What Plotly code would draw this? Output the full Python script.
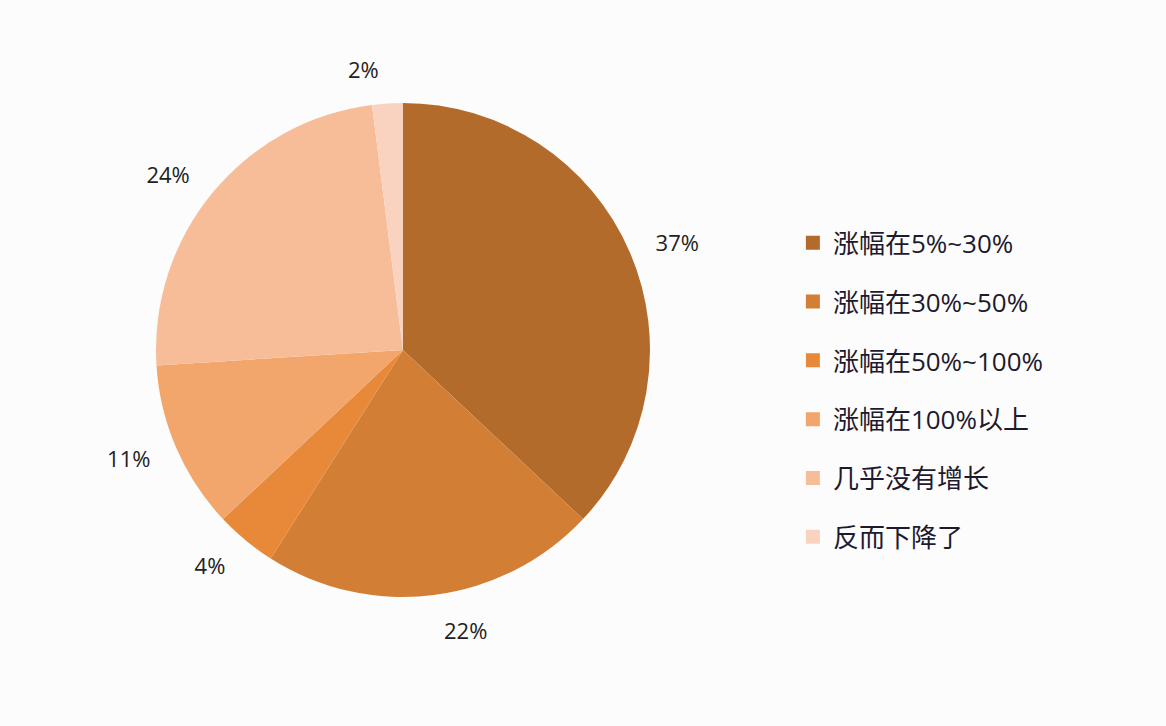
import plotly.graph_objects as go

# ===== data =====
names = ['涨幅在5%~30%', '涨幅在30%~50%', '涨幅在50%~100%', '涨幅在100%以上', '几乎没有增长', '反而下降了']
shares = [37, 22, 4, 11, 24, 2]
colors = ['#B36B2C', '#D27F35', '#E8893A', '#F2A66C', '#F7BD99', '#FAD3C0']

FONT = 'Open Sans, Noto Sans CJK SC, sans-serif'
W, H = 1166, 726
cx, cy, r = 403, 350, 247   # pie centre / radius in px
r_lab = 267                 # radius of the invisible pie that carries the outside labels


def dom(radius):
    return dict(x=[(cx - radius) / W, (cx + radius) / W],
                y=[(H - cy - radius) / H, (H - cy + radius) / H])


fig = go.Figure()

# transparent, slightly larger copy only for the percentage labels
fig.add_trace(go.Pie(
    labels=names, values=shares,
    sort=False, direction='clockwise', rotation=0,
    marker=dict(colors=['rgba(0,0,0,0)'] * len(names), line=dict(width=0)),
    texttemplate='%{value}%', textposition='outside',
    textfont=dict(size=22, color='#222222', family=FONT),
    domain=dom(r_lab), showlegend=False, hoverinfo='skip',
))

fig.add_trace(go.Pie(
    labels=names, values=shares,
    sort=False, direction='clockwise', rotation=0,
    marker=dict(colors=colors, line=dict(width=0)),
    textinfo='none',
    domain=dom(r), showlegend=False, hoverinfo='label+percent',
))

# legend built from one dummy square marker per category (gives per-entry spacing)
for name, c in zip(names, colors):
    fig.add_trace(go.Scatter(
        x=[None], y=[None], mode='markers', name=name,
        marker=dict(symbol='square', size=14, color=c),
        legendgroup=name, showlegend=True,
    ))

fig.update_layout(
    width=W, height=H,
    margin=dict(l=0, r=0, t=0, b=0),
    paper_bgcolor='#FCFCFD', plot_bgcolor='#FCFCFD',
    xaxis=dict(visible=False), yaxis=dict(visible=False),
    legend=dict(
        x=0.680, y=0.463, xanchor='left', yanchor='middle',
        font=dict(size=26, color='#1E1A2E', family=FONT),
        tracegroupgap=22, bgcolor='rgba(0,0,0,0)',
    ),
)

fig.write_html('out.html', config={'displayModeBar': False},
               post_script="document.body.style.margin='0';")
